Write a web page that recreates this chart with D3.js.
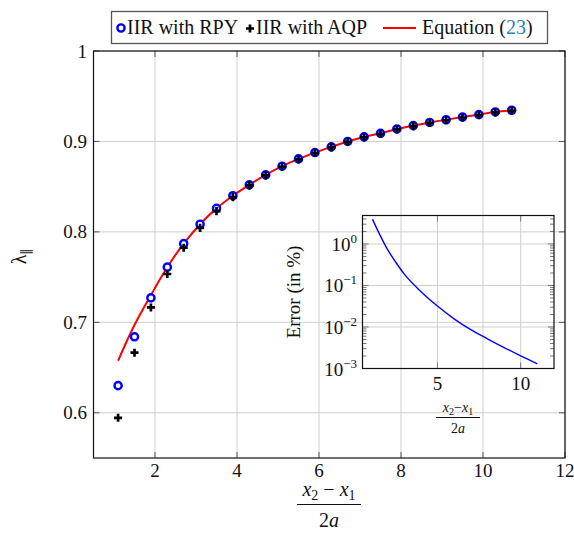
<!DOCTYPE html>
<html>
<head>
<meta charset="utf-8">
<script src="https://cdn.jsdelivr.net/npm/d3@7"></script>
<style>
  body { margin: 0; background: #fff; }
  svg text { font-family: "Liberation Serif", serif; fill: #111; }
</style>
</head>
<body>
<div id="chart"></div>
<script>
// data
const xPts = [1.1, 1.5, 1.9, 2.3, 2.7, 3.1, 3.5, 3.9, 4.3, 4.7, 5.1, 5.5, 5.9, 6.3, 6.7, 7.1, 7.5, 7.9, 8.3, 8.7, 9.1, 9.5, 9.9, 10.3, 10.7];
const lamRPY = [0.630, 0.684, 0.727, 0.761, 0.787, 0.8085, 0.826, 0.840, 0.852, 0.863, 0.8726, 0.8807, 0.8877, 0.894, 0.900, 0.905, 0.909, 0.9138, 0.9175, 0.921, 0.924, 0.927, 0.9297, 0.9326, 0.9345];
const lamAQP = [0.595, 0.667, 0.717, 0.754, 0.783, 0.805, 0.8235, 0.839, 0.852, 0.863, 0.8726, 0.8807, 0.8877, 0.894, 0.900, 0.905, 0.909, 0.9138, 0.9175, 0.921, 0.924, 0.927, 0.9297, 0.9326, 0.9345];
const xEq = [1.1, 1.3, 1.5, 1.7, 1.9, 2.1, 2.3, 2.7, 3.1, 3.5, 3.9, 4.3, 4.7, 5.1, 5.5, 5.9, 6.3, 6.7, 7.1, 7.5, 7.9, 8.3, 8.7, 9.1, 9.5, 9.9, 10.3, 10.7];
const lamEq = [0.6575, 0.678, 0.697, 0.714, 0.730, 0.746, 0.761, 0.787, 0.8085, 0.826, 0.840, 0.852, 0.863, 0.8726, 0.8807, 0.8877, 0.894, 0.900, 0.905, 0.909, 0.9138, 0.9175, 0.921, 0.924, 0.927, 0.9297, 0.9326, 0.9345];
const xErr = [1.1, 1.5, 2, 2.5, 3, 4, 5, 6, 7, 8, 9, 10, 11];
const errPct = [3.93, 1.80, 0.74, 0.363, 0.19, 0.072, 0.032, 0.0157, 0.0086, 0.0052, 0.0032, 0.00202, 0.0013];

const mainXTicks = [2, 4, 6, 8, 10, 12];
const mainYTicks = [0.6, 0.7, 0.8, 0.9, 1];
const insetXTicks = [5, 10];
const insetYTicks = [1, 0.1, 0.01, 0.001];
const insetYExp = ["0", "\u22121", "\u22122", "\u22123"];

const W = 574, H = 534;
const svg = d3.select("#chart").append("svg")
  .attr("width", W).attr("height", H);

// main axes
const x = d3.scaleLinear().domain([0.5, 12]).range([93.5, 565]);
const y = d3.scaleLinear().domain([0.55, 1]).range([458, 51]);

const grid = svg.append("g").attr("stroke", "#cfcfcf").attr("stroke-width", 1);
mainXTicks.forEach(t => grid.append("line")
  .attr("x1", x(t)).attr("x2", x(t)).attr("y1", y.range()[0]).attr("y2", y.range()[1]));
mainYTicks.forEach(t => grid.append("line")
  .attr("x1", x.range()[0]).attr("x2", x.range()[1]).attr("y1", y(t)).attr("y2", y(t)));

// inward ticks on all sides
const tk = svg.append("g").attr("stroke", "#555").attr("stroke-width", 1);
mainXTicks.forEach(t => {
  tk.append("line").attr("x1", x(t)).attr("x2", x(t)).attr("y1", 458).attr("y2", 452);
  tk.append("line").attr("x1", x(t)).attr("x2", x(t)).attr("y1", 51).attr("y2", 57);
});
mainYTicks.forEach(t => {
  tk.append("line").attr("x1", 93.5).attr("x2", 99.5).attr("y1", y(t)).attr("y2", y(t));
  tk.append("line").attr("x1", 565).attr("x2", 559).attr("y1", y(t)).attr("y2", y(t));
});

svg.append("rect")
  .attr("x", 93.5).attr("y", 51).attr("width", 565 - 93.5).attr("height", 458 - 51)
  .attr("fill", "none").attr("stroke", "#111").attr("stroke-width", 1.2);

// tick labels
svg.append("g").selectAll("text").data(mainXTicks).join("text")
  .attr("x", d => x(d)).attr("y", 477)
  .attr("text-anchor", "middle").attr("font-size", 19)
  .text(d => d);
svg.append("g").selectAll("text").data(mainYTicks).join("text")
  .attr("x", 87).attr("y", d => y(d) + 6.5)
  .attr("text-anchor", "end").attr("font-size", 19)
  .text(d => d === 1 ? "1" : d3.format(".1f")(d));

// axis labels
const yl = svg.append("text")
  .attr("transform", "translate(26,256) rotate(-90)")
  .attr("text-anchor", "middle").attr("font-size", 20);
yl.append("tspan").text("\u03bb");
yl.append("tspan").attr("font-size", 13).attr("dy", 4).text("\u2225");

function frac(g, cx, yNum, yBar, yDen, half, fs, sub) {
  const num = g.append("text").attr("x", cx).attr("y", yNum)
    .attr("text-anchor", "middle").attr("font-size", fs);
  num.append("tspan").attr("font-style", "italic").text("x");
  num.append("tspan").attr("font-size", sub).attr("dy", fs * 0.2).text("2");
  num.append("tspan").attr("dy", -fs * 0.2).text(fs > 17 ? " \u2212 " : "\u2212");
  num.append("tspan").attr("font-style", "italic").text("x");
  num.append("tspan").attr("font-size", sub).attr("dy", fs * 0.2).text("1");
  g.append("line").attr("x1", cx - half).attr("x2", cx + half)
    .attr("y1", yBar).attr("y2", yBar).attr("stroke", "#111").attr("stroke-width", 1);
  const den = g.append("text").attr("x", cx).attr("y", yDen)
    .attr("text-anchor", "middle").attr("font-size", fs);
  den.append("tspan").text("2");
  den.append("tspan").attr("font-style", "italic").text("a");
}
frac(svg, 329, 496, 504.5, 527, 32, 20, 14);

// equation line, then markers
svg.append("path")
  .datum(xEq.map((d, i) => [d, lamEq[i]]))
  .attr("fill", "none").attr("stroke", "#f00").attr("stroke-width", 2)
  .attr("d", d3.line().x(d => x(d[0])).y(d => y(d[1])).curve(d3.curveMonotoneX));

svg.append("g").selectAll("circle").data(xPts).join("circle")
  .attr("cx", d => x(d)).attr("cy", (d, i) => y(lamRPY[i])).attr("r", 3.6)
  .attr("fill", "#fff").attr("stroke", "#00f").attr("stroke-width", 2.4);

const plus = d3.symbol().type(d3.symbolCross).size(36);
svg.append("g").selectAll("path").data(xPts).join("path")
  .attr("transform", (d, i) => `translate(${x(d)},${y(lamAQP[i]) + 0.5})`)
  .attr("d", plus).attr("fill", "#000");

// inset
const xi = d3.scaleLinear().domain([0.5, 12]).range([362.5, 554]);
const yi = d3.scaleLog().domain([1e-3, 4.85]).range([368.5, 215.5]);

const ig = svg.append("g");
const igrid = ig.append("g").attr("stroke", "#cfcfcf").attr("stroke-width", 1);
insetXTicks.forEach(t => igrid.append("line")
  .attr("x1", xi(t)).attr("x2", xi(t)).attr("y1", 368.5).attr("y2", 215.5));
insetYTicks.slice(0, 3).forEach(t => igrid.append("line")
  .attr("x1", 362.5).attr("x2", 554).attr("y1", yi(t)).attr("y2", yi(t)));

// minor log ticks
const minor = [];
[0.001, 0.01, 0.1, 1].forEach(b => { for (let k = 2; k <= 9; k++) if (b * k <= 4.85) minor.push(b * k); });
const itk = ig.append("g").attr("stroke", "#777").attr("stroke-width", 1);
minor.forEach(t => {
  itk.append("line").attr("x1", 362.5).attr("x2", 366.5).attr("y1", yi(t)).attr("y2", yi(t));
  itk.append("line").attr("x1", 554).attr("x2", 550).attr("y1", yi(t)).attr("y2", yi(t));
});
insetYTicks.forEach(t => {
  itk.append("line").attr("x1", 362.5).attr("x2", 368.5).attr("y1", yi(t)).attr("y2", yi(t));
  itk.append("line").attr("x1", 554).attr("x2", 548).attr("y1", yi(t)).attr("y2", yi(t));
});
insetXTicks.forEach(t => {
  itk.append("line").attr("x1", xi(t)).attr("x2", xi(t)).attr("y1", 368.5).attr("y2", 362.5);
  itk.append("line").attr("x1", xi(t)).attr("x2", xi(t)).attr("y1", 215.5).attr("y2", 221.5);
});

ig.append("rect")
  .attr("x", 362.5).attr("y", 215.5).attr("width", 554 - 362.5).attr("height", 368.5 - 215.5)
  .attr("fill", "none").attr("stroke", "#111").attr("stroke-width", 1.2);

ig.append("path")
  .datum(xErr.map((d, i) => [d, errPct[i]]))
  .attr("fill", "none").attr("stroke", "#00f").attr("stroke-width", 1.4)
  .attr("d", d3.line().x(d => xi(d[0])).y(d => yi(d[1])).curve(d3.curveMonotoneX));

ig.append("g").selectAll("text").data(insetXTicks).join("text")
  .attr("x", d => xi(d)).attr("y", 390)
  .attr("text-anchor", "middle").attr("font-size", 19)
  .text(d => d);
ig.append("g").selectAll("text").data(insetYTicks).join("text")
  .attr("x", 357).attr("y", d => yi(d) + 7)
  .attr("text-anchor", "end").attr("font-size", 19)
  .each(function(d, i) {
    const t = d3.select(this);
    t.append("tspan").text("10");
    t.append("tspan").attr("font-size", 13).attr("dy", -8).text(insetYExp[i]);
  });

ig.append("text")
  .attr("transform", "translate(300,292) rotate(-90)")
  .attr("text-anchor", "middle").attr("font-size", 19)
  .text("Error (in %)");
frac(ig, 458, 412, 417.5, 433, 22, 14, 10);

// legend
const lg = svg.append("g");
lg.append("rect").attr("x", 111.5).attr("y", 11.5).attr("width", 436).attr("height", 32)
  .attr("fill", "#fff").attr("stroke", "#555").attr("stroke-width", 1.3);
lg.append("circle").attr("cx", 121).attr("cy", 28).attr("r", 3.6)
  .attr("fill", "#fff").attr("stroke", "#00f").attr("stroke-width", 2.4);
lg.append("text").attr("x", 127).attr("y", 34).attr("font-size", 20).text("IIR with RPY");
lg.append("path").attr("transform", "translate(250,28.5)").attr("d", plus).attr("fill", "#000");
lg.append("text").attr("x", 256).attr("y", 34).attr("font-size", 20).text("IIR with AQP");
lg.append("line").attr("x1", 383).attr("x2", 416).attr("y1", 28).attr("y2", 28)
  .attr("stroke", "#f00").attr("stroke-width", 2);
const eqt = lg.append("text").attr("x", 422).attr("y", 34).attr("font-size", 20);
eqt.append("tspan").text("Equation (");
eqt.append("tspan").style("fill", "#2a7fc0").text("23");
eqt.append("tspan").text(")");
</script>
</body>
</html>
